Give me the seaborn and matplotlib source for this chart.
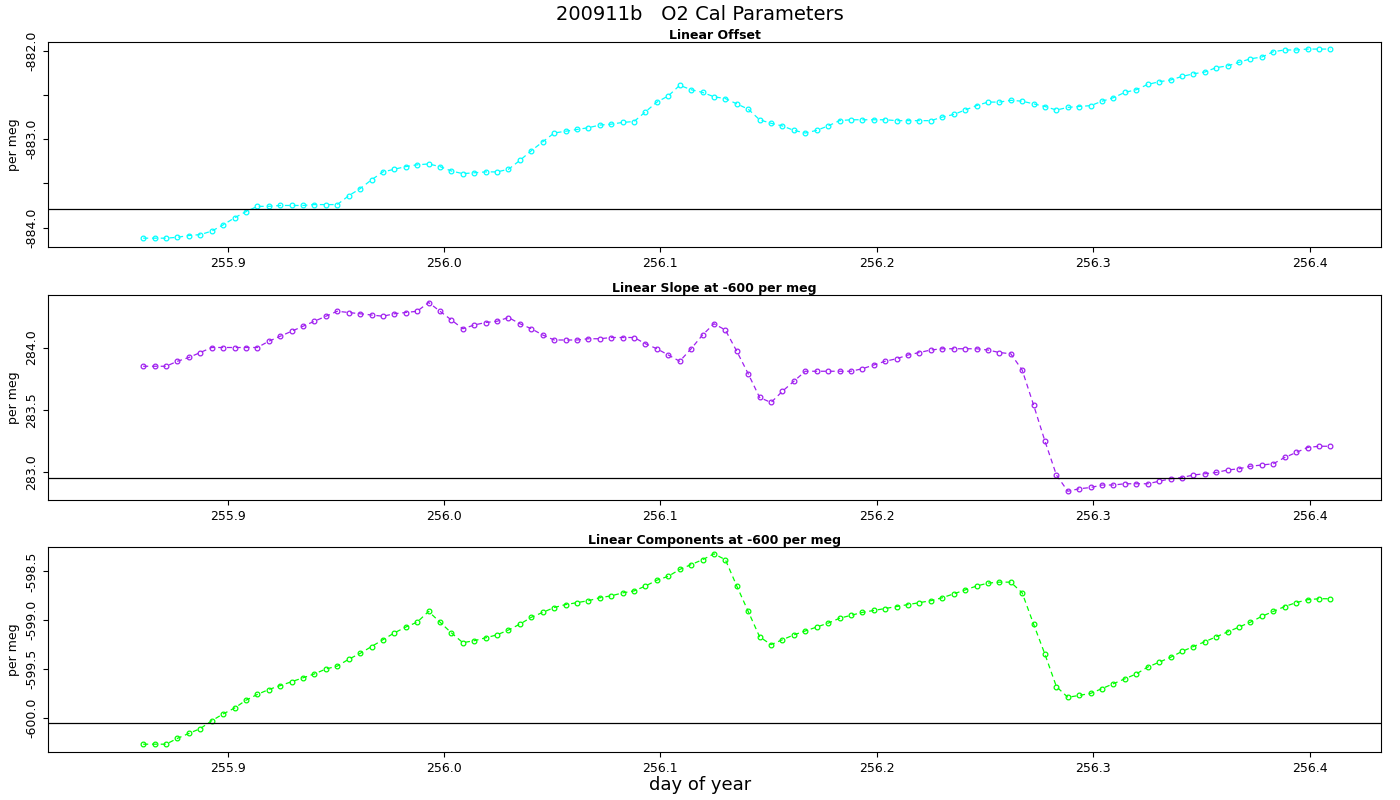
import numpy as np
import pandas as pd
import matplotlib
matplotlib.use("Agg")
import matplotlib.pyplot as plt
import seaborn as sns

offset = [-884.12,-884.12,-884.12,-884.11,-884.09,-884.08,-884.04,-883.97,-883.89,-883.82,
          -883.76,-883.76,-883.75,-883.75,-883.75,-883.74,-883.74,-883.74,-883.64,-883.56,
          -883.46,-883.37,-883.34,-883.31,-883.29,-883.28,-883.31,-883.36,-883.39,-883.38,
          -883.37,-883.37,-883.34,-883.24,-883.13,-883.03,-882.93,-882.91,-882.89,-882.87,
          -882.84,-882.83,-882.81,-882.80,-882.69,-882.58,-882.51,-882.39,-882.44,-882.47,
          -882.52,-882.54,-882.60,-882.66,-882.78,-882.82,-882.85,-882.90,-882.93,-882.90,
          -882.85,-882.79,-882.78,-882.78,-882.78,-882.78,-882.79,-882.79,-882.79,-882.79,
          -882.75,-882.72,-882.67,-882.62,-882.58,-882.58,-882.56,-882.57,-882.60,-882.63,
          -882.67,-882.64,-882.63,-882.62,-882.57,-882.53,-882.47,-882.44,-882.38,-882.35,
          -882.33,-882.29,-882.26,-882.24,-882.19,-882.17,-882.13,-882.09,-882.07,-882.01,
          -881.99,-881.99,-881.98,-881.98,-881.98]

slope = [283.85,283.85,283.85,283.89,283.92,283.96,284.00,284.00,284.00,284.00,
         284.00,284.05,284.09,284.13,284.17,284.21,284.25,284.29,284.28,284.27,
         284.26,284.25,284.27,284.28,284.29,284.36,284.29,284.22,284.15,284.18,
         284.20,284.21,284.24,284.19,284.15,284.10,284.06,284.06,284.06,284.07,
         284.07,284.08,284.08,284.08,284.03,283.99,283.94,283.89,283.99,284.10,
         284.19,284.14,283.97,283.79,283.60,283.56,283.65,283.73,283.81,283.81,
         283.81,283.81,283.81,283.83,283.86,283.89,283.91,283.94,283.96,283.98,
         283.99,283.99,283.99,283.99,283.98,283.96,283.95,283.82,283.54,283.25,
         282.98,282.85,282.87,282.88,282.90,282.90,282.91,282.91,282.91,282.93,
         282.95,282.96,282.98,282.99,283.00,283.02,283.03,283.05,283.06,283.07,
         283.12,283.16,283.20,283.21,283.21]

components = [-600.27,-600.27,-600.27,-600.21,-600.16,-600.11,-600.03,-599.96,-599.90,-599.82,
              -599.76,-599.71,-599.67,-599.63,-599.59,-599.55,-599.50,-599.47,-599.40,-599.34,
              -599.27,-599.20,-599.13,-599.07,-599.02,-598.91,-599.02,-599.13,-599.23,-599.21,
              -599.18,-599.15,-599.10,-599.04,-598.97,-598.92,-598.87,-598.84,-598.82,-598.80,
              -598.77,-598.75,-598.72,-598.70,-598.65,-598.59,-598.55,-598.48,-598.43,-598.38,
              -598.32,-598.38,-598.65,-598.91,-599.17,-599.25,-599.20,-599.15,-599.11,-599.07,
              -599.03,-598.98,-598.95,-598.92,-598.90,-598.88,-598.86,-598.84,-598.82,-598.80,
              -598.77,-598.73,-598.69,-598.65,-598.62,-598.61,-598.61,-598.72,-599.04,-599.35,
              -599.68,-599.79,-599.77,-599.75,-599.70,-599.65,-599.60,-599.55,-599.48,-599.43,
              -599.38,-599.32,-599.27,-599.22,-599.17,-599.12,-599.07,-599.02,-598.96,-598.91,
              -598.86,-598.82,-598.79,-598.78,-598.78]

ref_lines = [-883.79, 282.96, -600.05]
titles = ["Linear Offset", "Linear Slope at -600 per meg", "Linear Components at -600 per meg"]
colors = ["#00FFFF", "#A020F0", "#00FF00"]
series = [offset, slope, components]
ylims = [(-884.22, -881.9), (282.78, 284.42), (-600.35, -598.25)]
yticks = [np.arange(-884.0, -881.9, 0.5), np.arange(283.0, 284.01, 0.5), np.arange(-600.0, -598.4, 0.5)]
ylabels = [["-884.0", "", "-883.0", "", "-882.0"], ["283.0", "283.5", "284.0"],
           ["-600.0", "-599.5", "-599.0", "-598.5"]]
xticks = [255.9, 256.0, 256.1, 256.2, 256.3, 256.4]

fig = plt.figure(figsize=(14, 8), dpi=100)
W, H = 1400, 800
boxes = [(42, 247), (295, 500), (547, 752)]
for i, (top, bot) in enumerate(boxes):
    ax = fig.add_axes([48 / W, 1 - bot / H, (1381 - 48) / W, (bot - top) / H])
    vals = series[i]
    df = pd.DataFrame({"day": np.linspace(255.861, 256.4096, len(vals)), "v": vals})
    sns.lineplot(data=df, x="day", y="v", ax=ax, color=colors[i], lw=0.9,
                 linestyle=(0, (4, 3)), marker="o", markersize=3.4,
                 markerfacecolor="none", markeredgecolor=colors[i], markeredgewidth=0.9)
    ax.axhline(ref_lines[i], color="black", lw=0.9)
    ax.set_xlim(255.817, 256.433)
    ax.set_ylim(*ylims[i])
    ax.set_xticks(xticks)
    ax.set_xticklabels([f"{t:.1f}" for t in xticks], fontsize=9)
    ax.set_yticks(yticks[i])
    ax.set_yticklabels(ylabels[i], fontsize=9, rotation=90, va="center")
    ax.set_xlabel("")
    ax.set_ylabel("per meg", fontsize=9)
    ax.set_title(titles[i], fontsize=9, fontweight="bold", pad=2)
    for s in ax.spines.values():
        s.set_linewidth(0.8)
fig.text(0.5, 1 - 14 / H, "200911b   O2 Cal Parameters", ha="center", va="center", fontsize=14)
fig.text(0.5, 1 - 785 / H, "day of year", ha="center", va="center", fontsize=13)
fig.savefig("out.png", dpi=100)
